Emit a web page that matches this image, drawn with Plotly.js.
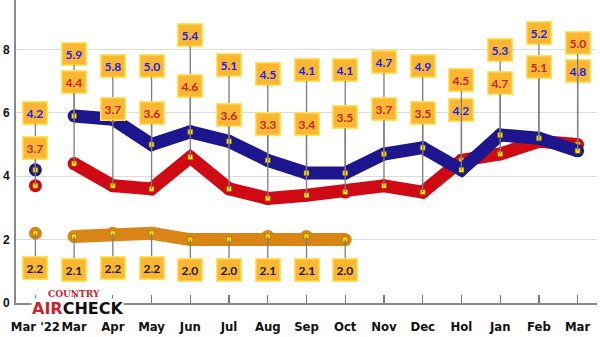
<!DOCTYPE html>
<html><head><meta charset="utf-8">
<script src="https://cdn.plot.ly/plotly-3.0.1.min.js"></script>
<style>html,body{margin:0;padding:0;background:#fff}#chart{width:600px;height:337px}</style>
</head><body><div id="chart"></div>
<script>
// ---- data ----
const months = ["Mar '22","Mar","Apr","May","Jun","Jul","Aug","Sep","Oct","Nov","Dec","Hol","Jan","Feb","Mar"];
const blueVals = [4.2,5.9,5.8,5.0,5.4,5.1,4.5,4.1,4.1,4.7,4.9,4.2,5.3,5.2,4.8];
const redVals = [3.7,4.4,3.7,3.6,4.6,3.6,3.3,3.4,3.5,3.7,3.5,4.5,4.7,5.1,5.0];
const orangeVals = [2.2,2.1,2.2,2.2,2.0,2.0,2.1,2.1,2.0];
const yTicks = [0,2,4,6,8];

// ---- label placement (pixel row of each callout box, layout only) ----
const blueLabelPx = [113,54,66,66,35,65,74,70,70,62,66,110,50,33,71];
const redLabelPx = [148,82,109,113,86,115,124,124,117,109,113,80,83,67,43];
const orangeLabelPx = [268,270,268,268,270,270,270,270,270];

const W=600,H=337,mL=16,mR=3,mT=0,mB=33.5;
const plotH=H-mT-mB;
const pxPerUnit=31.75;
const yMax=plotH/pxPerUnit;
const idx = months.map((_,i)=>i);

const BLUE='#1d168f', RED='#cf0a14', ORANGE='#d98616';

function lineTraces(xs, ys, color){
  const t=[];
  t.push({x:xs.slice(0,1),y:ys.slice(0,1),mode:'markers',marker:{color:color,size:13},hoverinfo:'skip'});
  t.push({x:xs.slice(1),y:ys.slice(1),mode:'lines+markers',line:{color:color,width:13},marker:{color:color,size:13},hoverinfo:'skip'});
  t.push({x:xs,y:ys,mode:'markers',marker:{color:'#ffe500',size:5,symbol:'square',line:{color:'#7a5a00',width:0.5}},hoverinfo:'skip'});
  return t;
}

const data = [].concat(
  lineTraces(idx.slice(0,orangeVals.length), orangeVals, ORANGE),
  lineTraces(idx, redVals, RED),
  lineTraces(idx, blueVals, BLUE)
);

function labels(vals, rows, color){
  return vals.map((v,i)=>{
    const ptPx = mT + plotH - v*pxPerUnit;
    return {x:i,y:v,xref:'x',yref:'y',text:v.toFixed(1),showarrow:true,arrowhead:0,arrowwidth:1.3,
      arrowcolor:'#7d7d7d',ax:0,ay:rows[i]-ptPx,standoff:0,
      bgcolor:'#fbb731',bordercolor:'#ffe35a',borderwidth:1.5,borderpad:3,
      font:{family:'Lato, "DejaVu Sans", sans-serif',size:12,color:color,weight:'bold'}};
  });
}

const annotations = [].concat(
  labels(blueVals, blueLabelPx, '#1a22ee'),
  labels(redVals, redLabelPx, '#c1272d'),
  labels(orangeVals, orangeLabelPx, '#1a1a1a'),
  [
    {xref:'paper',yref:'paper',x:(74-mL)/(W-mL-mR),y:(H-mB-294)/plotH,xanchor:'center',yanchor:'middle',text:'COUNTRY',showarrow:false,
     font:{family:'"DejaVu Serif", serif',size:9,color:'#c1272d',weight:'bold'}},
    {xref:'paper',yref:'paper',x:(77-mL)/(W-mL-mR),y:(H-mB-309)/plotH,xanchor:'center',yanchor:'middle',
     text:"<span style='color:#c1272d'>AIR</span>CHECK",showarrow:false,bgcolor:'#ffffff',borderpad:0,
     font:{family:'"DejaVu Sans", sans-serif',size:16,color:'#111',weight:'bold'}}
  ]
);

const layout = {
  width:W,height:H,margin:{l:mL,r:mR,t:mT,b:mB},
  paper_bgcolor:'#fff',plot_bgcolor:'#fff',showlegend:false,
  font:{family:'"Liberation Sans", Arial, sans-serif',color:'#111'},
  xaxis:{range:[-0.5,14.5],tickvals:idx,ticktext:months,tickangle:0,ticks:'inside',ticklen:8,tickcolor:'#777',tickwidth:1.2,
    showline:true,linecolor:'#8a8a8a',linewidth:2,showgrid:false,zeroline:false,fixedrange:true,automargin:false,
    tickfont:{family:'"Liberation Sans Narrow","DejaVu Sans Condensed","Liberation Sans",sans-serif',size:13,weight:'bold',color:'#111'},
    ticklabelstandoff:10},
  yaxis:{range:[0,yMax],tickvals:yTicks,showline:true,linecolor:'#8a8a8a',linewidth:2,showgrid:true,gridcolor:'#dcdcdc',gridwidth:1.2,
    zeroline:false,ticks:'',fixedrange:true,ticklabelstandoff:2,automargin:false,
    tickfont:{family:'"Liberation Sans", Arial, sans-serif',size:12,weight:'bold',color:'#111'}},
  annotations:annotations
};
Plotly.newPlot('chart',data,layout,{displayModeBar:false,staticPlot:true});
</script></body></html>
